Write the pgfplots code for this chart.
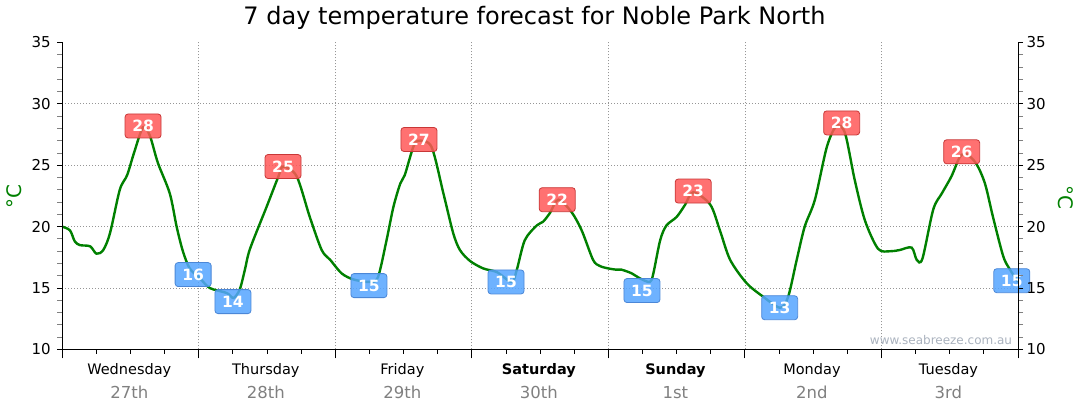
\documentclass[border=0pt]{standalone}
\usepackage{fontspec}
\setmainfont{DejaVu Sans}
\usepackage{pgfplots}
\pgfplotsset{compat=1.18}
\definecolor{tgreen}{RGB}{0,128,0}
\definecolor{boxred}{RGB}{255,88,88}
\definecolor{boxredborder}{RGB}{200,55,55}
\definecolor{boxblue}{RGB}{85,165,255}
\definecolor{boxblueborder}{RGB}{75,135,215}
\definecolor{gridgray}{RGB}{150,150,150}
\definecolor{dategray}{RGB}{128,128,128}
\definecolor{wmgray}{RGB}{170,178,190}
\pgfplotsset{
  base/.style={
    at={(62.3pt,64.5pt)}, anchor=south west,
    scale only axis, width=955.7pt, height=307pt,
    xmin=0, xmax=168, ymin=10, ymax=35,
    axis line style={black, line width=1pt},
    /pgf/number format/assume math mode=true,
  },
  yside/.style={
    base, axis x line=none,
    ytick={10,15,...,35}, minor y tick num=4, tick align=outside,
    major tick length=5pt, minor tick length=5pt,
    ytick style={black, line width=1pt},
    minor y tick style={gray, line width=1pt},
    yticklabel style={font=\fontsize{15}{15}\selectfont},
  },
  lab/.style={only marks, mark=*, mark size=0pt, mark options={draw=none, fill=none},
    nodes near coords, point meta=explicit symbolic,
    nodes near coords style={anchor=center, fill=#1, fill opacity=0.85, text opacity=1,
      draw=#1border, line width=0.8pt, rounded corners=3pt, minimum width=36pt, minimum height=24pt,
      inner sep=0pt, text=white, font=\fontsize{15.5}{15.5}\selectfont\bfseries}},
}
\begin{document}
\begin{tikzpicture}[x=1pt,y=1pt]
\path[use as bounding box] (0,0) rectangle (1080,414);
\begin{axis}[base,
  axis x line*=bottom, axis y line*=left,
  clip=false,
  xtick={0,24,...,168},
  xticklabels={{Wednesday\\{\color{dategray}\fontsize{16.5}{24}\selectfont 27th}},
               {Thursday\\{\color{dategray}\fontsize{16.5}{24}\selectfont 28th}},
               {Friday\\{\color{dategray}\fontsize{16.5}{24}\selectfont 29th}},
               {\textbf{Saturday}\\{\color{dategray}\fontsize{16.5}{24}\selectfont 30th}},
               {\textbf{Sunday}\\{\color{dategray}\fontsize{16.5}{24}\selectfont 1st}},
               {Monday\\{\color{dategray}\fontsize{16.5}{24}\selectfont 2nd}},
               {Tuesday\\{\color{dategray}\fontsize{16.5}{24}\selectfont 3rd}},
               {}},
  xticklabel style={xshift=67pt, yshift=-1.5pt, align=center, font=\fontsize{14.5}{24}\selectfont},
  minor x tick num=3,
  tick align=outside,
  major tick length=9pt, minor tick length=4.5pt,
  xtick style={black, line width=1pt},
  minor x tick style={black, line width=1pt},
  ytick={15,20,25,30}, yticklabels={}, ytick style={draw=none},
  xmajorgrids, ymajorgrids,
  grid style={gridgray, line width=0.8pt, dash pattern=on 1pt off 2pt},
]
\addplot[tgreen, line width=2.4pt, smooth, tension=0.5] coordinates {
(0,20.0) (1.35,19.7) (2.2,18.8) (3.1,18.5) (4.9,18.4) (6.0,17.8) (7.2,18.1) (8.4,19.5)
(10.1,23.0) (11.4,24.2) (12.6,26.0) (14.2,28.1) (15.4,27.4) (16.8,25.2) (18.9,22.7)
(20.1,20.0) (21.2,18.0) (22.4,16.6) (24.2,15.8) (25.95,15.0) (28.9,14.6) (30.1,14.2)
(31.2,14.9) (32.1,16.5) (33.0,18.2) (35.9,21.6) (38.0,24.1) (38.85,24.9) (41.2,24.1)
(43.5,20.8) (45.6,18.1) (47.1,17.3) (49.1,16.2) (51.2,15.7) (54.1,15.5) (55.5,15.9)
(57.0,18.9) (58.2,21.6) (59.4,23.5) (60.2,24.2) (61.7,26.5) (62.6,27.0) (64.9,26.5)
(67.0,22.7) (68.7,19.5) (69.9,18.1) (71.7,17.2) (74.0,16.6) (76.4,16.3) (79.0,15.5)
(79.9,16.5) (81.3,18.9) (83.4,20.1) (84.5,20.4) (85.7,21.1) (87.2,22.2) (89.5,21.2)
(91.3,19.7) (93.3,17.3) (94.5,16.8) (96.0,16.6) (97.4,16.5) (98.3,16.5) (100.1,16.2)
(101.5,15.8) (103.3,15.5) (103.9,16.2) (105.1,18.9) (106.2,20.1) (108.0,20.8) (109.5,21.8)
(110.9,22.8) (113.9,21.8) (115.6,19.7) (117.4,17.3) (120.3,15.4) (123.2,14.3) (126.2,13.4)
(127.6,14.3) (129.1,17.3) (130.5,20.0) (132.3,22.2) (134.4,26.5) (136.1,28.2) (137.6,27.6)
(139.3,23.8) (141.1,20.5) (143.4,18.2) (145.5,18.0) (147.2,18.1) (149.3,18.3) (150.2,17.3)
(151.2,17.4) (153.1,21.4) (154.6,22.7) (156.3,24.1) (157.8,25.7) (159.0,25.9) (160.7,25.1)
(162.2,23.5) (163.6,20.8) (165.4,17.6) (166.6,16.5) (168,15.5)
};
\addplot[lab=boxred] table[meta=lab] {
x y lab
14.2 28.2 28
38.8 24.9 25
62.7 27.1 27
87.0 22.2 22
110.9 22.9 23
137.0 28.45 28
158.1 26.1 26
};
\addplot[lab=boxblue] table[meta=lab] {
x y lab
23.0 16.1 16
30.0 13.9 14
53.9 15.2 15
78.0 15.5 15
101.9 14.8 15
126.1 13.4 13
166.9 15.6 15
};
\node[anchor=east, text=wmgray, font=\fontsize{12}{12}\selectfont, inner sep=0pt]
  at (rel axis cs:0.994,0.031) {www.seabreeze.com.au};
\end{axis}
\begin{axis}[yside, axis y line*=left, yticklabel style={xshift=-3pt}]
\addplot[draw=none] coordinates {(0,10)};
\end{axis}
\begin{axis}[yside, axis y line*=right]
\addplot[draw=none] coordinates {(0,10)};
\end{axis}
\node[font=\fontsize{24}{28}\selectfont] at (534.5,396) {7 day temperature forecast for Noble Park North};
\node[rotate=90, text=tgreen, font=\fontsize{20}{20}\selectfont] at (14,217) {°C};
\node[rotate=-90, text=tgreen, font=\fontsize{20}{20}\selectfont] at (1066,217) {°C};
\end{tikzpicture}
\end{document}
